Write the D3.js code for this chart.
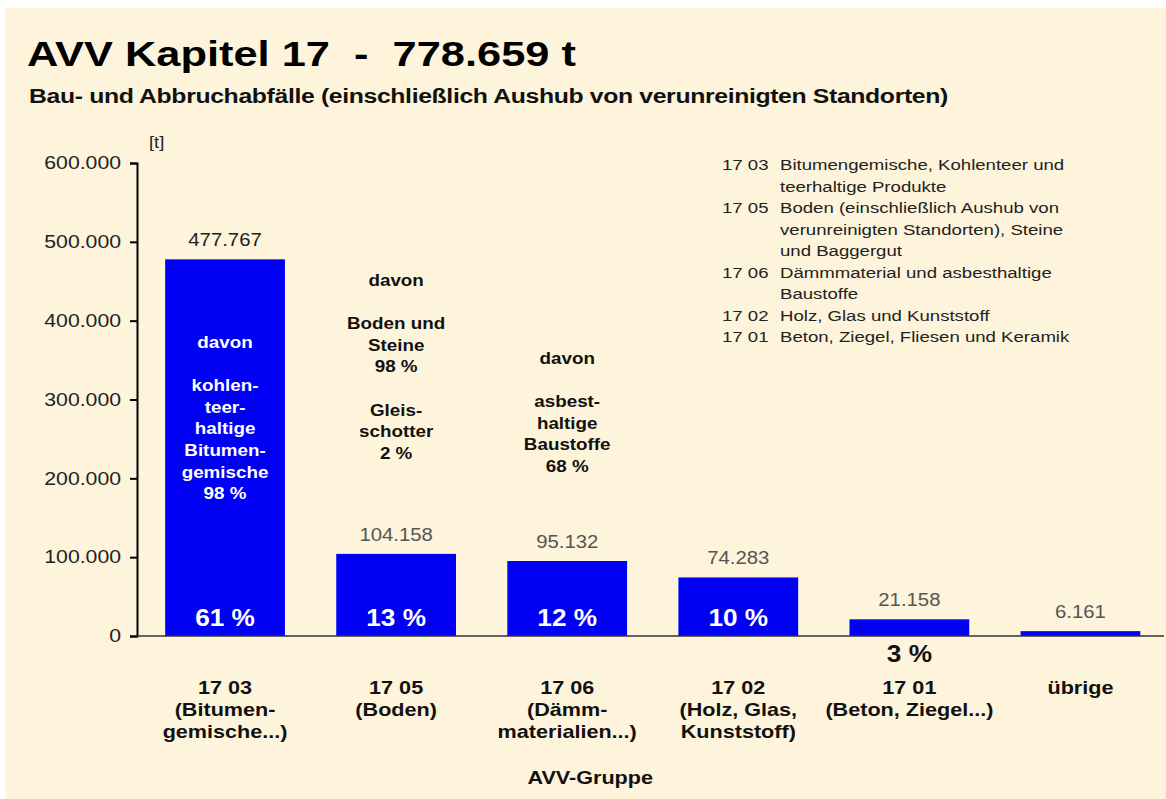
<!DOCTYPE html>
<html><head><meta charset="utf-8">
<script src="https://cdn.jsdelivr.net/npm/d3@7"></script>
<style>
html,body{margin:0;padding:0;background:#fff;}
svg{display:block;font-family:"Liberation Sans",Arial,sans-serif;}
</style></head>
<body>
<script>
const categories = ["17 03", "17 05", "17 06", "17 02", "17 01", "übrige"];
const values = [477767, 104158, 95132, 74283, 21158, 6161];
const valueLabels = ["477.767", "104.158", "95.132", "74.283", "21.158", "6.161"];
const percentLabels = ["61 %", "13 %", "12 %", "10 %", "3 %", ""];
const categoryLabels = [
  ["17 03", "(Bitumen-", "gemische...)"],
  ["17 05", "(Boden)"],
  ["17 06", "(Dämm-", "materialien...)"],
  ["17 02", "(Holz, Glas,", "Kunststoff)"],
  ["17 01", "(Beton, Ziegel...)"],
  ["übrige"]
];
const yTicks = [0, 100000, 200000, 300000, 400000, 500000, 600000];
const yTickLabels = ["0", "100.000", "200.000", "300.000", "400.000", "500.000", "600.000"];
const note1 = ["davon", "", "kohlen-", "teer-", "haltige", "Bitumen-", "gemische", "98 %"];
const note2 = ["davon", "", "Boden und", "Steine", "98 %", "", "Gleis-", "schotter", "2 %"];
const note3 = ["davon", "", "asbest-", "haltige", "Baustoffe", "68 %"];
const legendCodes = ["17 03", "", "17 05", "", "", "17 06", "", "17 02", "17 01"];
const legendTexts = ["Bitumengemische, Kohlenteer und", "teerhaltige Produkte",
  "Boden (einschließlich Aushub von", "verunreinigten Standorten), Steine", "und Baggergut",
  "Dämmmaterial und asbesthaltige", "Baustoffe", "Holz, Glas und Kunststoff",
  "Beton, Ziegel,  Fliesen und Keramik"];

const W = 1166, H = 799;
const svg = d3.select("body").append("svg").attr("width", W).attr("height", H);
svg.append("rect").attr("x", 5).attr("y", 8).attr("width", W - 5).attr("height", H - 8).attr("fill", "#FEF4DB");

// horizontally stretched text helper
function txt(x, y, s, str) {
  return svg.append("text").attr("transform", `translate(${x},${y}) scale(${s},1)`).text(str);
}

const x0 = 137, x1 = 1164, yTop = 163, yBot = 636;
const x = d3.scaleBand().domain(categories).range([139.5, 1166]).paddingInner(0.3).paddingOuter(0.15);
const y = d3.scaleLinear().domain([0, 600000]).range([yBot, yTop]);

// title
txt(27, 66, 1.24, "AVV Kapitel 17  -  778.659 t").attr("font-size", 35).attr("font-weight", "bold")
  .attr("fill", "#000").attr("xml:space", "preserve");
txt(29, 103, 1.18, "Bau- und Abbruchabfälle (einschließlich Aushub von verunreinigten Standorten)")
  .attr("font-size", 21).attr("font-weight", "bold").attr("fill", "#111").attr("letter-spacing", -0.3);

// y axis
const sY = 1.18;
const yAxis = d3.axisLeft(y).tickValues(yTicks).tickFormat((d, i) => yTickLabels[i]).tickSize(7).tickPadding(9);
const ga = svg.append("g").attr("transform", `translate(${x0},0)`).call(yAxis);
ga.select(".domain").attr("stroke", "#000").attr("stroke-width", 2);
ga.selectAll(".tick line").attr("stroke", "#000").attr("stroke-width", 2);
ga.selectAll(".tick text").attr("font-size", 18).attr("fill", "#222")
  .attr("font-family", "Liberation Sans, Arial, sans-serif")
  .attr("x", -16 / sY).attr("transform", `scale(${sY},1)`);
txt(149, 148, 1.15, "[t]").attr("font-size", 16).attr("fill", "#222");

// bars
svg.selectAll("rect.bar").data(values).enter().append("rect").attr("class", "bar")
  .attr("x", (d, i) => x(categories[i])).attr("width", x.bandwidth())
  .attr("y", d => y(d)).attr("height", d => yBot - y(d)).attr("fill", "#0000F5");

// x axis line
svg.append("line").attr("x1", x0).attr("x2", x1).attr("y1", yBot).attr("y2", yBot)
  .attr("stroke", "#333").attr("stroke-width", 1.5);

const cx = i => x(categories[i]) + x.bandwidth() / 2;

// value labels
values.forEach((v, i) => {
  txt(cx(i), y(v) - 13, 1.13, valueLabels[i]).attr("text-anchor", "middle")
    .attr("font-size", 18).attr("fill", i === 0 ? "#222" : "#555");
});

// percent labels
percentLabels.forEach((p, i) => {
  if (!p) return;
  const inside = values[i] > 50000;
  txt(cx(i), inside ? 626 : 662, 1.14, p).attr("text-anchor", "middle")
    .attr("font-size", 23).attr("font-weight", "bold").attr("fill", inside ? "#fff" : "#111");
});

// category labels
categoryLabels.forEach((lines, i) => {
  lines.forEach((l, j) => {
    txt(cx(i), 694 + j * 22, 1.2, l).attr("text-anchor", "middle")
      .attr("font-size", 18).attr("font-weight", "bold").attr("fill", "#111");
  });
});
txt(cx(2) + 23, 784, 1.2, "AVV-Gruppe").attr("text-anchor", "middle")
  .attr("font-size", 18).attr("font-weight", "bold").attr("fill", "#111");

// notes
function note(lines, i, yStart, color) {
  lines.forEach((l, j) => {
    if (!l) return;
    txt(cx(i), yStart + j * 21.6, 1.14, l).attr("text-anchor", "middle")
      .attr("font-size", 16.5).attr("font-weight", "bold").attr("fill", color);
  });
}
note(note1, 0, 348, "#fff");
note(note2, 1, 286, "#111");
note(note3, 2, 364, "#111");

// legend
legendTexts.forEach((t, j) => {
  const yy = 170 + j * 21.5;
  if (legendCodes[j]) txt(722, yy, 1.2, legendCodes[j]).attr("font-size", 15.5).attr("fill", "#222");
  txt(780, yy, 1.2, t).attr("font-size", 15.5).attr("fill", "#222");
});
</script>
</body></html>
